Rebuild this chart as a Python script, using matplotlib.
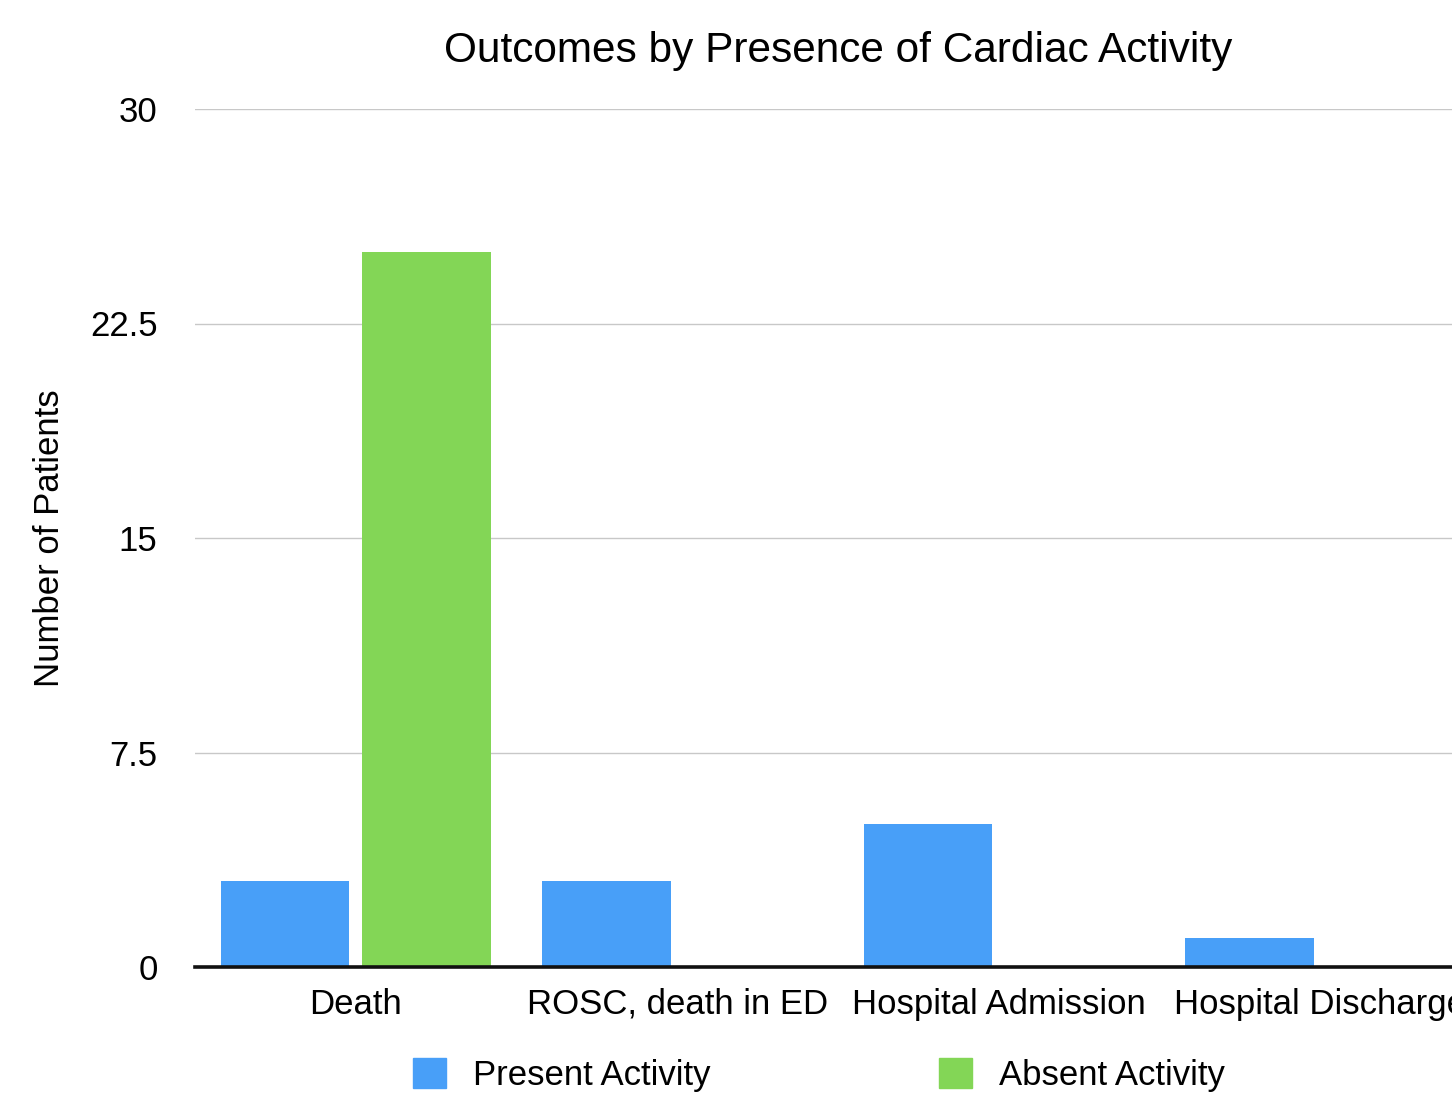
import numpy as np
import matplotlib

matplotlib.use("Agg")
import matplotlib.pyplot as plt  # noqa: E402
from matplotlib.patches import Patch  # noqa: E402

plt.rcParams["font.family"] = ["Liberation Sans", "DejaVu Sans"]

CATEGORIES = ["Death", "ROSC, death in ED", "Hospital Admission", "Hospital Discharge"]
PRESENT = [3, 3, 5, 1]
ABSENT = [25, 0, 0, 0]
SERIES = ["Present Activity", "Absent Activity"]
YTICKS = [0, 7.5, 15, 22.5, 30]
YTICKLABELS = ["0", "7.5", "15", "22.5", "30"]

BLUE = "#489ff8"
GREEN = "#83d656"

W, H = 1452, 1106
fig = plt.figure(figsize=(W / 100, H / 100), dpi=100)
# axes runs off the right edge, as in the source screenshot
ax = fig.add_axes([195 / W, 1 - 967 / H, 1286 / W, (967 - 109) / H])

x = np.arange(len(CATEGORIES))
bw, off = 0.4, 0.22
ax.bar(x - off, PRESENT, bw, color=BLUE, zorder=3)
ax.bar(x + off, ABSENT, bw, color=GREEN, zorder=3)

ax.set_xlim(-0.5, len(CATEGORIES) - 0.5)
ax.set_ylim(0, 30)
ax.set_yticks(YTICKS)
ax.set_yticklabels(YTICKLABELS)
ax.set_xticks(x)
ax.set_xticklabels(CATEGORIES)
ax.tick_params(axis="both", length=0, labelsize=25)
ax.tick_params(axis="y", pad=27)
ax.tick_params(axis="x", pad=15)
for s in ("left", "right", "top"):
    ax.spines[s].set_visible(False)
ax.spines["bottom"].set_linewidth(2.6)
ax.spines["bottom"].set_color("#111111")
ax.spines["bottom"].set_zorder(4)
ax.grid(axis="y", color="#c8c8c8", linewidth=1.0, zorder=0)
ax.set_axisbelow(True)

ax.set_ylabel("Number of Patients", fontsize=25)
ax.yaxis.set_label_coords((66 - 195) / 1286, 0.5)
ax.set_title("Outcomes by Presence of Cardiac Activity", fontsize=30.5, pad=34)

handles = [Patch(color=BLUE), Patch(color=GREEN)]
fig.legend(handles, SERIES, loc="center", bbox_to_anchor=(819 / W, 1 - 1075 / H),
           ncol=2, frameon=False, fontsize=25, handlelength=0.95, handleheight=0.95,
           handletextpad=0.78, columnspacing=6.6)

fig.savefig("out.png", dpi=100)
